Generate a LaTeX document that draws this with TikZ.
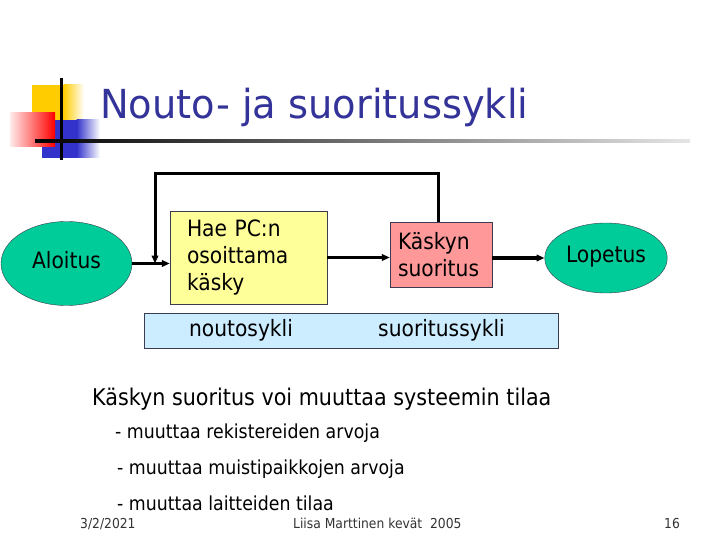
\documentclass[tikz,border=0pt]{standalone}
\usepackage{fontspec}
\setmainfont{DejaVu Sans}[FakeStretch=0.9]
\newfontfamily\titlefont{DejaVu Sans}[FakeStretch=0.96]
\usetikzlibrary{arrows.meta,shapes.geometric}

\definecolor{titleblue}{RGB}{51,51,153}
\definecolor{startgreen}{RGB}{0,204,153}
\definecolor{fetchyellow}{RGB}{255,255,153}
\definecolor{execred}{RGB}{255,153,153}
\definecolor{cycleblue}{RGB}{204,236,255}
\definecolor{logoyellow}{RGB}{255,204,0}
\definecolor{logoblue}{RGB}{51,51,204}
\definecolor{logored}{RGB}{255,0,0}
\definecolor{edgegray}{RGB}{60,60,80}

\begin{document}
\begin{tikzpicture}[
    x=1pt, y=-1pt,
    boxfont/.style={font=\fontsize{22.5}{27}\selectfont},
    terminal/.style={ellipse, draw=edgegray, fill=startgreen, boxfont, text height=17pt, text depth=8pt},
    stepbox/.style={rectangle, draw=edgegray, align=left, boxfont},
    flow/.style={-{Triangle[length=8pt,width=6.5pt]}, line width=3.5pt},
    textline/.style={anchor=base west, inner sep=0pt}
  ]
  \useasboundingbox (0,0) rectangle (720,540);

  % Logo squares
  \fill[logoyellow] (32,85) rectangle (64,120);
  \shade[left color=logoyellow, right color=white] (63.5,85) rectangle (84,120);
  \fill[logoblue] (42,120) rectangle (77,158);
  \shade[left color=logoblue, right color=white] (76.5,120) rectangle (100,158);
  \shade[left color=red!8, right color=logored] (10,113) rectangle (55,147);
  \fill (59.5,78) rectangle (62.5,160);
  \shade[left color=black, right color=black!10] (35,139.5) rectangle (690,142.5);

  % Title
  \node[textline, font=\titlefont\fontsize{40}{48}\selectfont, text=titleblue] (title) at (100,119) {Nouto- ja suoritussykli};

  % Cycle
  \node[terminal, minimum width=131pt, minimum height=84pt] (aloitus) at (66.5,263.5) {Aloitus};
  \node[stepbox, fill=fetchyellow, text width=123pt, inner xsep=17pt, minimum height=93pt] (hae) at (248.5,257.5) {Hae PC:n\\osoittama\\käsky};
  \node[stepbox, fill=execred, text width=86pt, inner xsep=8pt, minimum height=65pt] (kasky) at (441,254.5) {Käskyn\\suoritus};
  \node[terminal, minimum width=120pt, minimum height=70pt] (lopetus) at (606,258) {Lopetus};

  \draw[flow] (aloitus.east) -- (aloitus.east -| hae.west);
  \draw[flow] (hae.east) -- (hae.east -| kasky.west);
  \draw[flow] (kasky.east |- lopetus.west) -- (lopetus.west);

  % Back to fetch
  \coordinate (looptop) at (155,174);
  \coordinate (merge) at (155,263.5);
  \draw[flow, line width=3pt] ([xshift=-3pt]kasky.north) |- (looptop) -- (merge);

  % Phases
  \node[draw=edgegray, fill=cycleblue, minimum width=414pt, minimum height=35pt, inner sep=0pt] (band) at (351,330.5) {};
  \node[boxfont] (noutolbl) at (241,330.5) {noutosykli};
  \node[boxfont] (suorituslbl) at (441.5,330.5) {suoritussykli};

  % Notes
  \node[textline, font=\fontsize{23}{28}\selectfont] (note) at (92,405) {Käskyn suoritus voi muuttaa systeemin tilaa};
  \node[textline, font=\fontsize{19.3}{23}\selectfont] (item1) at (115,438) {- muuttaa rekistereiden arvoja};
  \node[textline, font=\fontsize{19.3}{23}\selectfont] (item2) at (117,474) {- muuttaa muistipaikkojen arvoja};
  \node[textline, font=\fontsize{19.3}{23}\selectfont] (item3) at (117,510) {- muuttaa laitteiden tilaa};

  % Footer
  \node[textline, font=\fontsize{13.7}{16}\selectfont, text=black!80] (date) at (80,528) {3/2/2021};
  \node[textline, font=\fontsize{13.7}{16}\selectfont, text=black!80] (author) at (293,528) {Liisa Marttinen kevät\ \ 2005};
  \node[textline, font=\fontsize{13.7}{16}\selectfont, text=black!80] (page) at (664,528) {16};
\end{tikzpicture}
\end{document}
